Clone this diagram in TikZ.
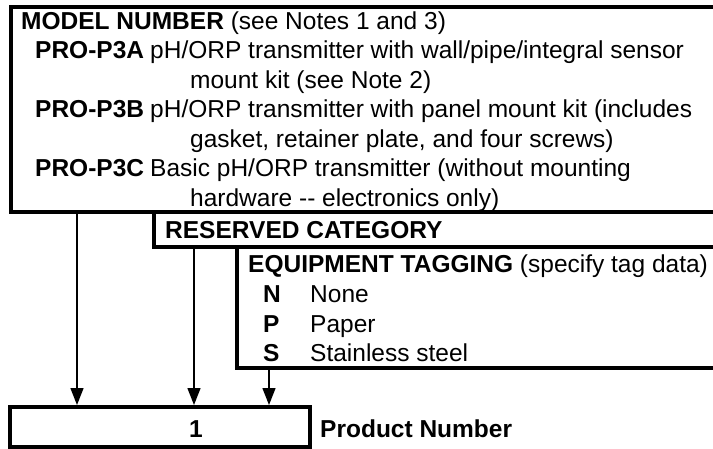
\documentclass[tikz,border=0pt]{standalone}
\usepackage{fontspec}
\setmainfont{Liberation Sans}
\usetikzlibrary{arrows.meta}

\begin{document}
\begin{tikzpicture}[x=1pt,y=-1pt,>={Triangle[length=17pt,width=13pt]},
  frame/.style={line width=4pt},
  txt/.style={anchor=base west,inner sep=0pt,font=\fontsize{24.5}{29}\selectfont},
  code/.style={txt,font=\fontsize{24.5}{29}\selectfont\bfseries}]
  \useasboundingbox (0,0) rectangle (713,448);
  % open frames, cut by the right edge
  \draw[frame] (713,7) -| (10.5,212) -- (713,212);
  \draw[frame] (154,212) |- (713,247);
  \draw[frame] (237,247) |- (713,367.5);
  % model number
  \node[txt] (model) at (21,29) {\textbf{MODEL NUMBER} (see Notes 1 and 3)};
  \foreach \n/\y/\c/\d/\e in {a/58.5/PRO-P3A/{pH/ORP transmitter with wall/pipe/integral sensor}/{mount kit (see Note 2)},
                              b/117.5/PRO-P3B/{pH/ORP transmitter with panel mount kit (includes}/{gasket, retainer plate, and four screws)},
                              c/176.5/PRO-P3C/{Basic pH/ORP transmitter (without mounting}/{hardware -{}- electronics only)}} {
    \node[code] (c\n) at (35,\y) {\c};
    \node[txt] (d\n) at (150,\y) {\d};
    \node[txt] (e\n) at (190,\y+29.5) {\e};
  }
  % reserved category
  \node[code] (resv) at (165,238) {RESERVED CATEGORY};
  % equipment tagging
  \node[txt] (tag) at (248,272) {\textbf{EQUIPMENT TAGGING} (specify tag data)};
  \foreach \k/\y/\d in {N/302/None,P/332/Paper,S/361.5/Stainless steel} {
    \node[code] (k\k) at (263,\y) {\k};
    \node[txt] (t\k) at (310,\y) {\d};
  }
  % product number
  \node[draw,frame,minimum width=300pt,minimum height=40pt,inner sep=0pt] (prod) at (160,427) {};
  \node[code,anchor=base] (one) at (196,437) {1};
  \node[code] (pnum) at (320,437) {Product Number};
  \coordinate (m1) at (77,212);
  \coordinate (m2) at (194,247);
  \coordinate (m3) at (269,367.5);
  \foreach \m in {m1,m2,m3}
    \draw[->,line width=1.4pt] (\m) -- (\m |- prod.north);
\end{tikzpicture}
\end{document}
